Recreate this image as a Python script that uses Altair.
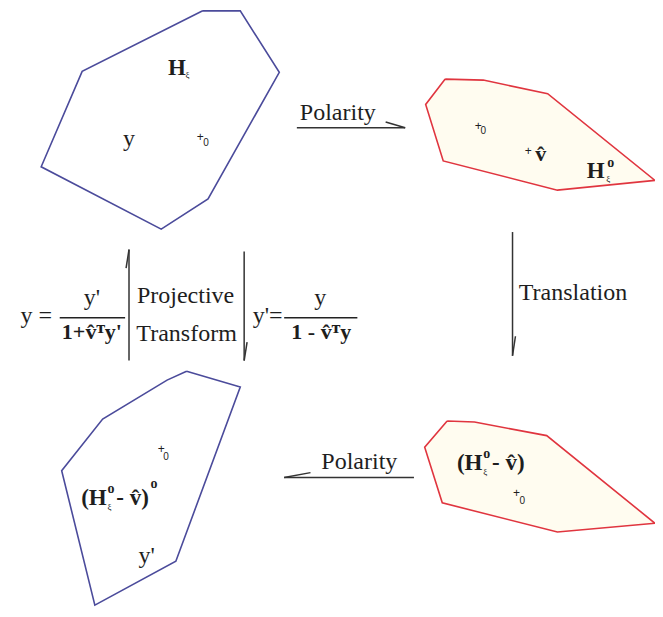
import altair as alt
import pandas as pd

# ---- polygons (coordinates of the figure, origin top-left) ----
poly_blue_id = ["A"] * 8 + ["D"] * 8
poly_blue_x = [199, 238, 278, 205, 157, 34, 76, 199,
               183, 238, 172, 89, 55, 97, 163, 183]
poly_blue_y = [3, 3, 66, 196, 227, 163, 65, 3,
               373, 389, 568, 613, 475, 422, 382, 373]

poly_red_id = ["B"] * 8 + ["C"] * 8
poly_red_x = [448, 487, 553, 663, 563, 446, 428, 448,
              450, 478, 552, 663, 563, 445, 427, 450]
poly_red_y = [73, 74, 88, 177, 187, 157, 99, 73,
              424, 425, 439, 529, 538, 508, 451, 424]

# ---- arrows (segments) ----
seg_x1 = [296, 387, 517, 520, 124, 121, 242, 245, 283, 283]
seg_y1 = [123, 117, 230, 337, 362, 267, 250, 343, 482, 482]
seg_x2 = [407, 407, 517, 517, 124, 124, 242, 242, 416, 310]
seg_y2 = [123, 123, 357, 357, 248, 248, 362, 362, 482, 477]

# ---- fraction bars ----
bar_x1 = [53, 283]
bar_x2 = [120, 358]
bar_y = [318, 318]

# ---- regular serif labels (center x, baseline y) ----
reg_text = ["Polarity", "Polarity", "Translation", "Projective", "Transform",
            "y", "y'", "y =", "y'=", "y'", "y"]
reg_x = [338, 360, 579, 182, 183, 124, 142, 29, 266, 86, 320]
reg_y = [115, 473, 300, 303, 342, 142, 570, 323, 323, 305, 305]

# ---- bold serif pieces (left x, baseline y) ----
bold_text = ["H", "H", "(H", "- v\u0302)", "(H", "- v\u0302)"]
bold_x = [164, 593, 460, 496, 75, 111]
bold_y = [69, 175, 474, 474, 510, 510]

# ---- bold serif centred (center x, baseline y) ----
boldc_text = ["1+v\u0302\u1d40y'", "1 - v\u0302\u1d40y", "v\u0302"]
boldc_x = [86, 321, 546]
boldc_y = [340, 340, 157]

# ---- superscript "o" (left x, baseline y) ----
sup_text = ["o", "o", "o", "o"]
sup_x = [614, 487, 102, 146]
sup_y = [163, 462, 498, 493]

# ---- subscript ξ (left x, baseline y) ----
sub_text = ["ξ", "ξ", "ξ", "ξ"]
sub_x = [182, 613, 487, 102]
sub_y = [72, 179, 479, 515]

# ---- origin markers ----
plus_x = [197, 482, 533, 157, 521]
plus_y = [132, 121, 147, 453, 498]
zero_x = [203, 487, 162, 527]
zero_y = [139, 126, 461, 506]

W, H = 647, 601
xs = alt.Scale(domain=[0, 663], nice=False, zero=False)
ys = alt.Scale(domain=[0, 617], nice=False, zero=False, reverse=True)


def X(f):
    return alt.X(f, type="quantitative", scale=xs, axis=None)


def Y(f):
    return alt.Y(f, type="quantitative", scale=ys, axis=None)


blue = pd.DataFrame({"id": poly_blue_id, "x": poly_blue_x, "y": poly_blue_y,
                     "o": list(range(len(poly_blue_x)))})
red = pd.DataFrame({"id": poly_red_id, "x": poly_red_x, "y": poly_red_y,
                    "o": list(range(len(poly_red_x)))})
segs = pd.DataFrame({"x": seg_x1, "y": seg_y1, "x2": seg_x2, "y2": seg_y2})
bars = pd.DataFrame({"x": bar_x1, "x2": bar_x2, "y": bar_y})

blue_l = alt.Chart(blue).mark_line(color="#4b4b9b", strokeWidth=1.6).encode(
    x=X("x"), y=Y("y"), detail="id:N", order="o:Q")
red_l = alt.Chart(red).mark_line(color="#e0353f", strokeWidth=1.6, fill="#fffcf0").encode(
    x=X("x"), y=Y("y"), detail="id:N", order="o:Q")

seg_l = alt.Chart(segs).mark_rule(color="#333333", strokeWidth=1.5).encode(
    x=X("x"), y=Y("y"), x2="x2:Q", y2="y2:Q")
bar_l = alt.Chart(bars).mark_rule(color="#222222", strokeWidth=1.3).encode(
    x=X("x"), x2="x2:Q", y=Y("y"))


def texts(t, x, y, align="center", baseline="alphabetic", **kw):
    df = pd.DataFrame({"t": t, "x": x, "y": y})
    return alt.Chart(df).mark_text(align=align, baseline=baseline,
                                   color="#1e1e1e", **kw).encode(
        x=X("x"), y=Y("y"), text="t:N")


serif = "Liberation Serif"
sans = "Liberation Sans"
t_reg = texts(reg_text, reg_x, reg_y, font=serif, fontSize=24)
t_bold = texts(bold_text, bold_x, bold_y, align="left", font=serif,
               fontSize=23, fontWeight="bold")
t_boldc = texts(boldc_text, boldc_x, boldc_y, font=serif, fontSize=22,
                fontWeight="bold")
t_sup = texts(sup_text, sup_x, sup_y, align="left", font=serif, fontSize=14,
              fontWeight="bold")
t_sub = texts(sub_text, sub_x, sub_y, align="left", font=serif, fontSize=9)
t_plus = texts(["+"] * len(plus_x), plus_x, plus_y, baseline="middle",
               font=sans, fontSize=12)
t_zero = texts(["0"] * len(zero_x), zero_x, zero_y, baseline="middle",
               font=sans, fontSize=10)

chart = alt.layer(red_l, blue_l, seg_l, bar_l, t_reg, t_bold, t_boldc, t_sup,
                  t_sub, t_plus, t_zero).properties(
    width=W, height=H, padding=0, autosize=alt.AutoSizeParams(type="none")
).configure_view(stroke=None)

chart.save("out.html", embed_options={"renderer": "svg", "actions": False})
